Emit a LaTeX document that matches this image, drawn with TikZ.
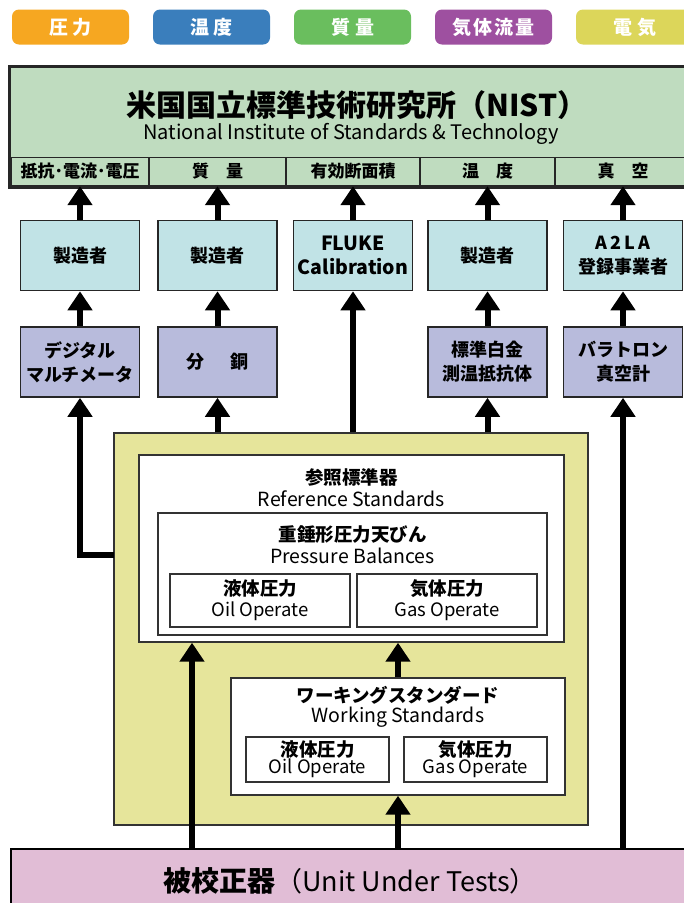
\documentclass[tikz,border=0pt]{standalone}
\usepackage{fontspec}
\setmainfont{Noto Sans CJK JP}
\usetikzlibrary{arrows.meta}
\definecolor{lgorange}{RGB}{246,167,33}
\definecolor{lgblue}{RGB}{58,126,188}
\definecolor{lggreen}{RGB}{106,190,94}
\definecolor{lgpurple}{RGB}{158,80,160}
\definecolor{lgyellow}{RGB}{220,214,90}
\definecolor{nistg}{RGB}{191,220,191}
\definecolor{makerc}{RGB}{193,227,230}
\definecolor{stdc}{RGB}{184,187,220}
\definecolor{yelbox}{RGB}{230,229,155}
\definecolor{uutc}{RGB}{225,189,214}

\begin{document}
\begin{tikzpicture}[x=1pt,y=-1pt,
	legend/.style={rounded corners=7pt,fill=#1,text=white,minimum width=117pt,minimum height=35pt,inner sep=0pt,font=\fontsize{19}{19}\selectfont\bfseries},
	box/.style={draw=black!85,line width=1.6pt,fill=#1,minimum width=119pt,minimum height=70pt,inner sep=0pt,align=center,font=\fontsize{18}{24}\selectfont\bfseries},
	cell/.style={draw=black!85,line width=1.4pt,minimum height=28pt,inner sep=0pt,font=\fontsize{17}{17}\selectfont\bfseries},
	frame/.style={draw=black!80,line width=1.4pt,fill=white,inner sep=0pt},
	ttl/.style={inner sep=0pt,font=\fontsize{18.5}{18.5}\selectfont\bfseries},
	sub/.style={inner sep=0pt,font=\fontsize{19.5}{19.5}\selectfont},
	pair/.style={frame,align=center,font=\fontsize{18.5}{#1}\selectfont},
	up/.style={line width=6pt,-{Triangle[width=24pt,length=19pt]}}]
		\clip (0,0) rectangle (684,903);
		\useasboundingbox (0,0) rectangle (684,903);
		\foreach \i/\x/\c/\t in {1/70.5/lgorange/{圧\hspace{5pt}力},2/211.5/lgblue/{温\hspace{5pt}度},3/352.5/lggreen/{質\hspace{5pt}量},4/493.5/lgpurple/{気\hspace{2pt}体\hspace{2pt}流\hspace{2pt}量},5/634.5/lgyellow/{電\hspace{5pt}気}}
		\node[legend=\c] (LG\i) at (\x,27) {\t};

		\node[draw=black!85,line width=2.5pt,fill=nistg,minimum width=700pt,minimum height=119pt,inner sep=0pt] (NIST) at (360,126.5) {};
		\node[inner sep=0pt,font=\fontsize{30}{30}\selectfont\bfseries] (NISTt) at (357,105) {米国国立標準技術研究所（NIST）};
		\node[inner sep=0pt,font=\fontsize{20}{20}\selectfont] (NISTs) at (351,134) {National Institute of Standards \& Technology};
		\foreach \i/\x/\w/\t in {1/80/138/抵抗･電流･電圧,2/217.5/136/{質\quad 量},3/353/134/有効断面積,4/487.5/135/{温\quad 度},5/623/136/{真\quad 空}}
		\node[cell,minimum width=\w pt] (C\i) at (\x,171.5) {\t};
		\draw[draw=black!85,line width=2.5pt] (NIST.north west) rectangle (NIST.south east);

		\foreach \i/\x/\t in {1/80/製造者,2/217.5/製造者,3/353/{\fontsize{19.5}{24}\selectfont FLUKE\\\fontsize{19.5}{24}\selectfont Calibration},4/487.5/製造者,5/623/{A\hspace{3pt}2\hspace{3pt}L\hspace{3pt}A\\登録事業者}}
		\node[box=makerc] (MK\i) at (\x,255.5) {\t};
		\foreach \i/\x/\t in {1/80/{デジタル\\マルチメータ},2/217.5/{分\hspace{1.4em}銅},4/487.5/{標準白金\\測温抵抗体},5/623/{バラトロン\\真空計}}
		\node[box=stdc] (ST\i) at (\x,362) {\t};

		\node[draw=black!80,line width=1.4pt,fill=yelbox,minimum width=474pt,minimum height=392pt,inner sep=0pt] (YB) at (351,629) {};
		\node[frame,minimum width=425pt,minimum height=187pt] (Ref) at (351.5,548.5) {};
		\node[ttl] (Reft) at (351.5,477) {参照標準器};
		\node[sub] (Refs) at (351.5,498.5) {Reference Standards};
		\node[frame,minimum width=389pt,minimum height=122pt] (PB) at (352.5,574) {};
		\node[ttl] (PBt) at (352.5,535) {重錘形圧力天びん};
		\node[sub] (PBs) at (352.5,556) {Pressure Balances};
		\node[pair=21,minimum width=180pt,minimum height=53pt] (Oil) at (260,600.5) {\textbf{液体圧力}\\Oil Operate};
		\node[pair=21,minimum width=180pt,minimum height=53pt] (Gas) at (447,600.5) {\textbf{気体圧力}\\Gas Operate};

		\node[frame,minimum width=334pt,minimum height=117pt] (Work) at (398,736.5) {};
		\node[ttl] (Workt) at (398,695) {ワーキングスタンダード};
		\node[sub] (Works) at (398,717) {Working Standards};
		\node[pair=17,minimum width=143pt,minimum height=45pt] (WOil) at (317.5,759.5) {\textbf{液体圧力}\\Oil Operate};
		\node[pair=17,minimum width=143pt,minimum height=45pt] (WGas) at (475.5,759.5) {\textbf{気体圧力}\\Gas Operate};

		\node[draw=black,line width=2pt,fill=uutc,minimum width=700pt,minimum height=80pt,inner sep=0pt] (UUT) at (361,889) {};
		\node[inner sep=0pt,font=\fontsize{27}{27}\selectfont] (UUTt) at (350,881) {{\fontsize{28}{28}\selectfont\bfseries 被校正器}（Unit Under Tests）};

		\coordinate (YBk) at (114,555);
		\coordinate (L) at (192,0);
		\foreach \i in {1,...,5}
		\draw[up] (MK\i.north) -- (C\i.south);
		\foreach \i in {1,2,4,5}
		\draw[up] (ST\i.north) -- (MK\i.south);
		\draw[up] (YB.north -| MK3) -- (MK3.south);
		\draw[up] (YB.north -| ST2) -- (ST2.south);
		\draw[up] (YB.north -| ST4) -- (ST4.south);
		\draw[up,line join=miter] (YBk) -| (ST1.south);
		\draw[up] (UUT.north -| ST5) -- (ST5.south);
		\draw[up] (UUT.north -| L) -- (Ref.south -| L);
		\draw[up] (UUT.north -| Work) -- (Work.south);
		\draw[up] (Work.north) -- (Ref.south -| Work);
	    \end{tikzpicture}
\end{document}
